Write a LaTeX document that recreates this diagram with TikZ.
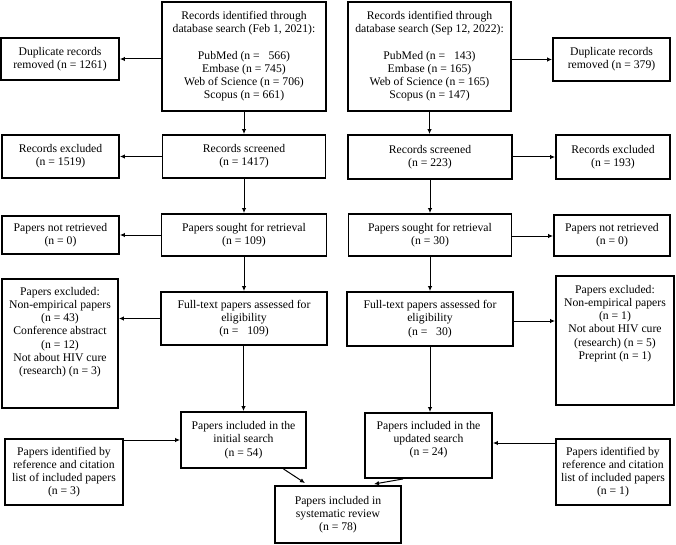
\documentclass[tikz,border=0pt]{standalone}
\usepackage{fontspec}
\setmainfont{Liberation Serif}
\usetikzlibrary{arrows.meta,calc}
\newcommand\fsz{\fontsize{11.7}{13.2}\selectfont}
\tikzset{
  box/.style={draw, line width=1.9pt, inner sep=1pt, align=center, font=\fsz},
  txt/.style={inner sep=0pt, align=center, font=\fsz},
  arr/.style={-{Latex[length=5pt,width=4.5pt]}, line width=1pt},
}
\begin{document}
\begin{tikzpicture}[x=1pt,y=1pt]
\useasboundingbox (0,0) rectangle (676,-545);
% left column
\node[box, minimum width=164, minimum height=109] (A1) at (244,-56.5)
  {Records identified through\\database search (Feb 1, 2021):\\[13.2pt]PubMed (n = \ \ 566)\\Embase (n = 745)\\Web of Science (n = 706)\\Scopus (n = 661)};
\node[box, minimum width=118, minimum height=42] (D1) at (60,-59)
  {Duplicate records\\removed (n = 1261)};
\node[box, minimum width=163, minimum height=43] (S1) at (244,-156.5)
  {Records screened\\(n = 1417)};
\node[box, minimum width=117, minimum height=43] (E1) at (60.5,-156.5)
  {Records excluded\\(n = 1519)};
\node[box, minimum width=165, minimum height=42] (P1) at (244,-235)
  {Papers sought for retrieval\\(n = 109)};
\node[box, minimum width=117, minimum height=38] (N1) at (60.5,-235)
  {Papers not retrieved\\(n = 0)};
\node[box, minimum width=166, minimum height=53] (F1) at (244,-318.5)
  {Full-text papers assessed for\\eligibility\\(n = \ \ 109)};
\node[box, minimum width=116, minimum height=129] (X1) at (60,-343.5) {};
\node[txt, anchor=north] (X1t) at ([yshift=-9pt]X1.north)
  {Papers excluded:\\Non-empirical papers\\(n = 43)\\Conference abstract\\(n = 12)\\Not about HIV cure\\(research) (n = 3)};
\node[box, minimum width=125, minimum height=56] (I1) at (243.5,-440)
  {Papers included in the\\initial search\\(n = 54)};
\node[box, minimum width=118, minimum height=66] (R1) at (64,-472)
  {Papers identified by\\reference and citation\\list of included papers\\(n = 3)};
% right column
\node[box, minimum width=163, minimum height=109] (A2) at (429.5,-56.5)
  {Records identified through\\database search (Sep 12, 2022):\\[13.2pt]PubMed (n = \ \ 143)\\Embase (n = 165)\\Web of Science (n = 165)\\Scopus (n = 147)};
\node[box, minimum width=117, minimum height=43] (D2) at (611.5,-59.5)
  {Duplicate records\\removed (n = 379)};
\node[box, minimum width=164, minimum height=44] (S2) at (430,-157)
  {Records screened\\(n = 223)};
\node[box, minimum width=114, minimum height=44] (E2) at (613,-157)
  {Records excluded\\(n = 193)};
\node[box, minimum width=163, minimum height=42] (P2) at (430,-235)
  {Papers sought for retrieval\\(n = 30)};
\node[box, minimum width=116, minimum height=41] (N2) at (612,-235.5)
  {Papers not retrieved\\(n = 0)};
\node[box, minimum width=166, minimum height=54] (F2) at (430,-319)
  {Full-text papers assessed for\\eligibility\\(n = \ \ 30)};
\node[box, minimum width=118, minimum height=129] (X2) at (615,-340.5) {};
\node[txt, anchor=north] (X2t) at ([yshift=-10pt]X2.north)
  {Papers excluded:\\Non-empirical papers\\(n = 1)\\Not about HIV cure\\(research) (n = 5)\\Preprint (n = 1)};
\node[box, minimum width=127, minimum height=65] (I2) at (428.5,-445.5) {};
\node[txt] (I2t) at ([yshift=6pt]I2.center)
  {Papers included in the\\updated search\\(n = 24)};
\node[box, minimum width=114, minimum height=66] (R2) at (613,-472)
  {Papers identified by\\reference and citation\\list of included papers\\(n = 1)};
% final
\node[box, minimum width=126, minimum height=57] (FIN) at (338,-514.5)
  {Papers included in\\systematic review\\(n = 78)};
% arrows left
\draw[arr] (A1.west |- D1.east) -- (D1.east);
\draw[arr] (A1.south) -- (A1.south |- S1.north);
\draw[arr] (S1.west |- E1.east) -- (E1.east);
\draw[arr] (S1.south) -- (S1.south |- P1.north);
\draw[arr] (P1.west |- N1.east) -- (N1.east);
\draw[arr] (P1.south) -- (P1.south |- F1.north);
\draw[arr] (F1.west) -- (F1.west -| X1.east);
\draw[arr] (F1.south -| I1.north) -- (I1.north);
\draw[arr] (R1.east |- I1.west) -- (I1.west);
% arrows right
\draw[arr] (A2.east |- D2.west) -- (D2.west);
\draw[arr] (A2.south) -- (A2.south |- S2.north);
\draw[arr] (S2.east |- E2.west) -- (E2.west);
\draw[arr] (S2.south) -- (S2.south |- P2.north);
\draw[arr] ([yshift=-1pt]P2.east) -- ([yshift=-1pt]P2.east -| N2.west);
\draw[arr] (P2.south) -- (P2.south |- F2.north);
\draw[arr] ([yshift=-2pt]F2.east) -- ([yshift=-2pt]F2.east -| X2.west);
\draw[arr] (F2.south) -- (F2.south |- I2.north);
\draw[arr] ([yshift=2.5pt]R2.west |- I2.east) -- ([yshift=2.5pt]I2.east);
% to final
\draw[arr] ([xshift=40pt]I1.south) -- ([xshift=-33pt,yshift=2pt]FIN.north);
\draw[arr] ([xshift=-25.5pt]I2.south) -- ([xshift=36pt,yshift=1pt]FIN.north);
\end{tikzpicture}
\end{document}
